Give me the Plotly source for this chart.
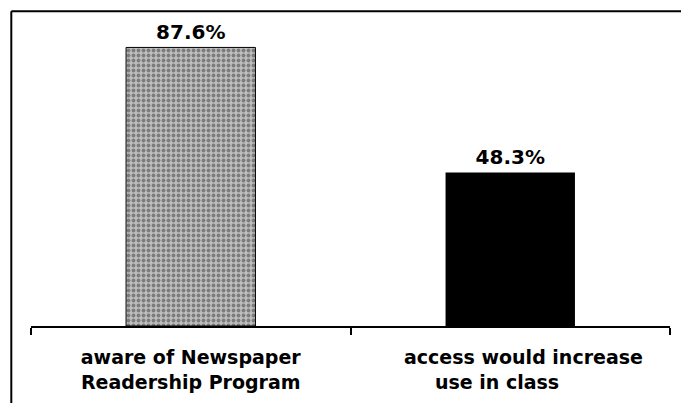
import plotly.graph_objects as go

# Survey results
categories = ["aware of Newspaper<br>Readership Program",
              "\u00a0\u00a0\u00a0\u00a0access would increase<br>use in class\u00a0\u00a0\u00a0\u00a0"]
category_keys = ["aware", "access"]
percentages = [87.6, 48.3]
value_labels = ["87.6%", "48.3%"]

FONT = "DejaVu Sans, Liberation Sans, Arial, sans-serif"
W, H = 681, 403
ML, MR, MT, MB = 31, 11, 8, 77
PW, PH = W - ML - MR, H - MT - MB


def px_x(x):
    return (x - ML) / PW


def px_y(y):
    return (H - MB - y) / PH


fig = go.Figure()

# textured grey bar
fig.add_trace(go.Bar(
    x=[category_keys[0]], y=[percentages[0]],
    text=[value_labels[0]], textposition="outside",
    marker=dict(
        color="#9a9a9a",
        line=dict(color="black", width=1),
        pattern=dict(shape=".", bgcolor="#bebebe", fgcolor="#7c7c7c",
                     size=5, solidity=0.45, fillmode="replace"),
    ),
    width=0.405,
))

# solid black bar
fig.add_trace(go.Bar(
    x=[category_keys[1]], y=[percentages[1]],
    text=[value_labels[1]], textposition="outside",
    marker=dict(color="black", line=dict(color="black", width=0)),
    width=0.405,
))

fig.update_traces(
    textfont=dict(family=FONT, size=20, color="black", weight="bold"),
    cliponaxis=False,
    hoverinfo="skip",
)

fig.update_xaxes(
    type="category",
    categoryorder="array", categoryarray=category_keys,
    tickvals=category_keys, ticktext=categories,
    range=[-0.5, 1.5],
    showline=True, linecolor="black", linewidth=2,
    ticks="outside", tickson="boundaries", ticklen=7, tickwidth=2, tickcolor="black",
    tickfont=dict(family=FONT, size=19, color="black", weight="bold"),
    ticklabelstandoff=13,
    showgrid=False, zeroline=False,
)
fig.update_yaxes(
    range=[0, 100], visible=False, showgrid=False, zeroline=False,
)

# outer frame (top and left edges)
frame_x, frame_y = 11.3, 11.3
fig.add_shape(type="line", xref="paper", yref="paper",
              x0=px_x(frame_x), y0=px_y(frame_y), x1=px_x(W + 5), y1=px_y(frame_y),
              line=dict(color="black", width=2))
fig.add_shape(type="line", xref="paper", yref="paper",
              x0=px_x(frame_x), y0=px_y(frame_y), x1=px_x(frame_x), y1=px_y(H + 5),
              line=dict(color="black", width=2))

fig.update_layout(
    width=W, height=H,
    margin=dict(l=ML, r=MR, t=MT, b=MB, pad=0),
    paper_bgcolor="white", plot_bgcolor="white",
    showlegend=False,
    barmode="group",
    font=dict(family=FONT, color="black"),
)

fig.write_html("out.html")
